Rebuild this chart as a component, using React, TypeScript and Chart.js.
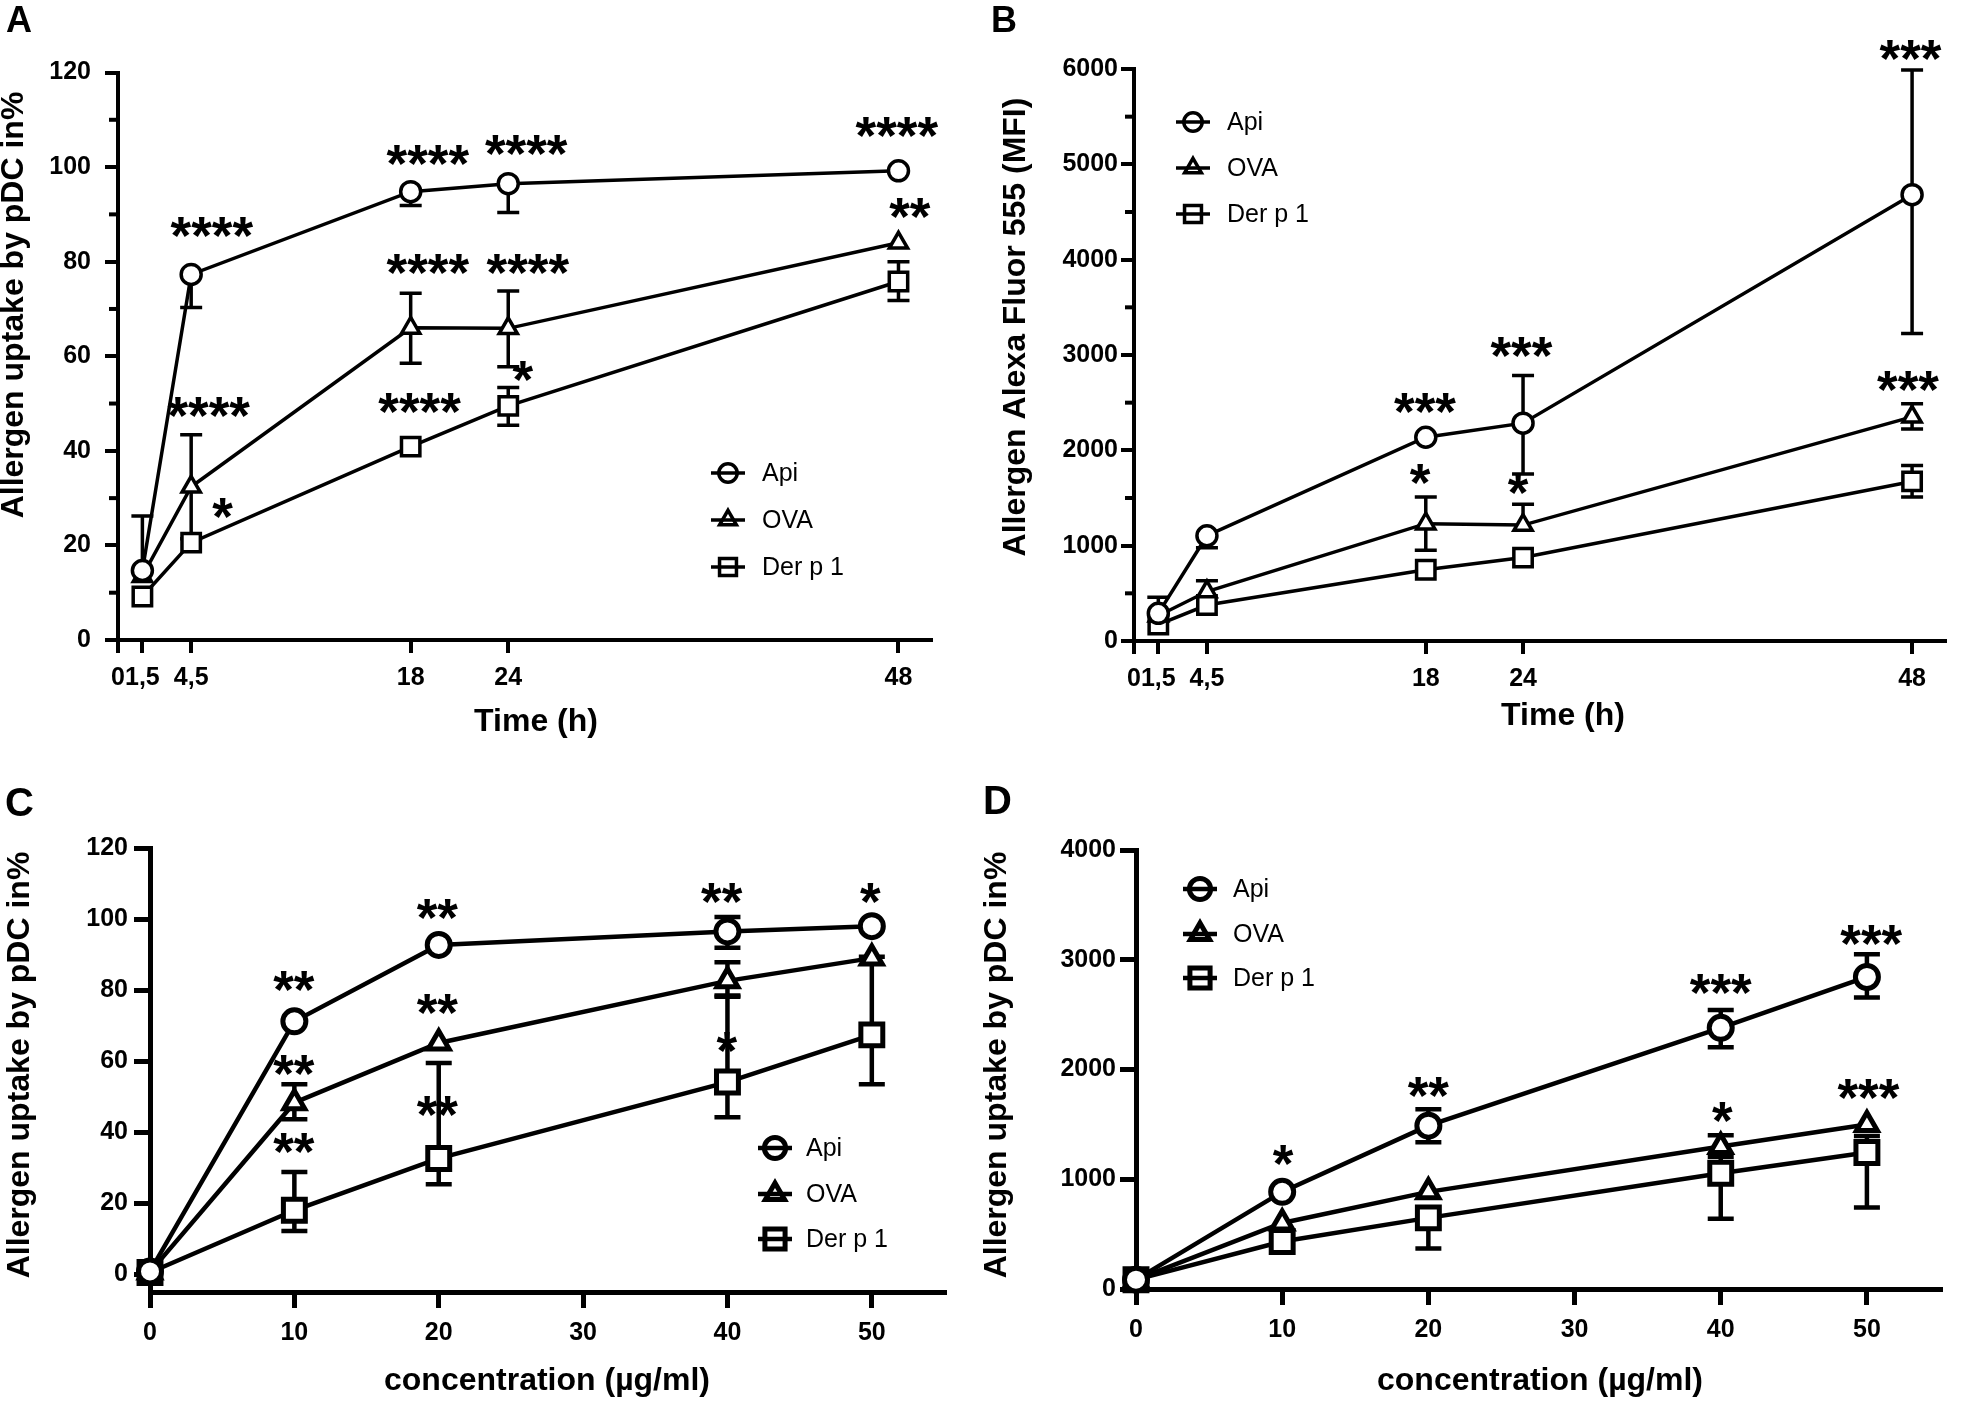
import React, { useEffect, useRef } from 'react';
import { Chart, registerables } from 'chart.js';

Chart.register(...registerables);

const FONT = '"Liberation Sans", Arial, Helvetica, sans-serif';

const seriesNames = ['Api', 'OVA', 'Der p 1'];
const seriesStyles = ['circle', 'triangle', 'rect'];

// ---------- Panel A: uptake (%) over time ----------
const timePoints = [1.5, 4.5, 18, 24, 48];
const timeTicks = [0, 1.5, 4.5, 18, 24, 48];
const timeTickLabels = ['0', '1,5', '4,5', '18', '24', '48'];

const apiA = [14.7, 77.3, 94.8, 96.5, 99.2];
const apiAUp = [11.5, 0, 0, 0, 0];
const apiADown = [0, 7, 2.9, 6.1, 0];
const ovaA = [13.5, 32.4, 66.0, 65.9, 84.0];
const ovaAUp = [0, 11, 7.3, 7.9, 0];
const ovaADown = [0, 11, 7.5, 8.1, 0];
const derA = [9.2, 20.6, 40.9, 49.5, 75.8];
const derAUp = [0, 0, 0, 3.9, 4.2];
const derADown = [0, 0, 0, 4.1, 4.0];
const yTicksA = [0, 20, 40, 60, 80, 100, 120];
const yMinorA = [10, 30, 50, 70, 90, 110];
const starTextA = ['****', '****', '****', '****', '****', '****', '****', '**', '*', '****', '*'];
const starXA = [5.77, 19.05, 25.1, 47.9, 5.58, 19.05, 25.2, 48.7, 6.43, 18.55, 24.9];
const starYA = [86.6, 101.9, 104.0, 107.7, 48.5, 78.9, 78.9, 90.7, 27.3, 49.3, 56.2];

// ---------- Panel B: MFI over time ----------
const apiB = [290, 1104, 2137, 2285, 4682];
const apiBUp = [168, 0, 0, 499, 1308];
const apiBDown = [0, 127, 0, 534, 1456];
const ovaB = [265, 519, 1231, 1216, 2351];
const ovaBUp = [0, 112, 280, 219, 138];
const ovaBDown = [0, 0, 279, 0, 127];
const derB = [173, 377, 748, 875, 1674];
const derBUp = [0, 0, 0, 0, 168];
const derBDown = [0, 0, 0, 0, 163];
const yTicksB = [0, 1000, 2000, 3000, 4000, 5000, 6000];
const yMinorB = [500, 1500, 2500, 3500, 4500, 5500];
const starTextB = ['***', '***', '***', '*', '*', '***'];
const starXB = [17.95, 23.9, 47.9, 17.65, 23.7, 47.75];
const starYB = [2463, 3053, 6168, 1715, 1613, 2697];

// ---------- Panel C: uptake (%) over concentration ----------
const concPoints = [0, 10, 20, 40, 50];
const concTicks = [0, 10, 20, 30, 40, 50];
const concTickLabels = ['0', '10', '20', '30', '40', '50'];

const apiC = [0.8, 71.2, 92.7, 96.5, 98.0];
const apiCUp = [0, 0, 0, 4.1, 0];
const apiCDown = [0, 0, 0, 4.6, 0];
const ovaC = [0.6, 48.3, 65.1, 82.6, 89.0];
const ovaCUp = [0, 5.2, 0, 5.2, 0];
const ovaCDown = [0, 4.7, 0, 4.1, 0];
const derC = [0.5, 18.0, 32.6, 54.1, 67.4];
const derCUp = [0, 10.8, 26.9, 24, 22];
const derCDown = [0, 5.8, 7.3, 9.9, 13.9];
const yTicksC = [0, 20, 40, 60, 80, 100, 120];
const starTextC = ['**', '**', '**', '*', '**', '**', '*', '**', '**'];
const starXC = [9.96, 19.9, 39.6, 49.9, 9.96, 19.9, 39.96, 9.96, 19.9];
const starYC = [81.5, 102.0, 106.4, 106.4, 58.1, 75.0, 64.5, 36.0, 46.5];

// ---------- Panel D: uptake over concentration ----------
const apiD = [85, 885, 1488, 2380, 2843];
const apiDUp = [0, 0, 150, 162, 207];
const apiDDown = [0, 0, 151, 177, 188];
const ovaD = [85, 602, 885, 1299, 1499];
const ovaDUp = [0, 0, 0, 102, 0];
const ovaDDown = [0, 0, 0, 0, 0];
const derD = [85, 433, 648, 1054, 1243];
const derDUp = [0, 0, 0, 151, 150];
const derDDown = [0, 0, 279, 414, 501];
const yTicksD = [0, 1000, 2000, 3000, 4000];
const starTextD = ['*', '**', '***', '***', '*', '***'];
const starXD = [10.06, 20.0, 40.0, 50.3, 40.1, 50.1];
const starYD = [1190, 1808, 2749, 3193, 1582, 1789];

type Series = { values: number[]; up: number[]; down: number[] };
type Panel = {
  canvas: { left: number; top: number; width: number; height: number };
  area: { left: number; top: number; right: number; bottom: number };
  xMin: number; xMax: number; xTicks: number[]; xLabels: string[];
  yMin: number; yMax: number; yTicks: number[]; yMinor: number[];
  xs: number[]; series: Series[];
  starText: string[]; starX: number[]; starY: number[];
  lineWidth: number; markerBorder: number; radii: number[]; capHalf: number;
  axisWidth: number; tickLen: number; minorLen: number; tickFontSize: number; yPad: number; xPad: number;
  letter: string; letterX: number; letterY: number; letterSize: number;
  yTitle: string; yTitleX: number; yTitleY: number;
  xTitle: string; xTitleX: number; xTitleY: number;
  legendX: number; legendYs: number[]; legendTextX: number;
};

const panels: Panel[] = [
  {
    canvas: { left: 0, top: 0, width: 980, height: 760 },
    area: { left: 118, top: 72.5, right: 931, bottom: 640 },
    xMin: 0, xMax: 50, xTicks: timeTicks, xLabels: timeTickLabels,
    yMin: 0, yMax: 120, yTicks: yTicksA, yMinor: yMinorA,
    xs: timePoints,
    series: [
      { values: apiA, up: apiAUp, down: apiADown },
      { values: ovaA, up: ovaAUp, down: ovaADown },
      { values: derA, up: derAUp, down: derADown },
    ],
    starText: starTextA, starX: starXA, starY: starYA,
    lineWidth: 3.5, markerBorder: 3.5, radii: [10, 10.5, 13], capHalf: 11,
    axisWidth: 4, tickLen: 13, minorLen: 7, tickFontSize: 25, yPad: 14, xPad: 10,
    letter: 'A', letterX: 6, letterY: 32, letterSize: 36,
    yTitle: 'Allergen uptake by pDC in%', yTitleX: 14, yTitleY: 305,
    xTitle: 'Time (h)', xTitleX: 536, xTitleY: 722,
    legendX: 728, legendYs: [473, 520, 567], legendTextX: 762,
  },
  {
    canvas: { left: 980, top: 0, width: 981, height: 760 },
    area: { left: 1134, top: 69, right: 1959, bottom: 641 },
    xMin: 0, xMax: 50, xTicks: timeTicks, xLabels: timeTickLabels,
    yMin: 0, yMax: 6000, yTicks: yTicksB, yMinor: yMinorB,
    xs: timePoints,
    series: [
      { values: apiB, up: apiBUp, down: apiBDown },
      { values: ovaB, up: ovaBUp, down: ovaBDown },
      { values: derB, up: derBUp, down: derBDown },
    ],
    starText: starTextB, starX: starXB, starY: starYB,
    lineWidth: 3.5, markerBorder: 3.5, radii: [10, 10.5, 13], capHalf: 11,
    axisWidth: 4, tickLen: 13, minorLen: 7, tickFontSize: 25, yPad: 3, xPad: 10,
    letter: 'B', letterX: 991, letterY: 32, letterSize: 36,
    yTitle: 'Allergen Alexa Fluor 555 (MFI)', yTitleX: 1016, yTitleY: 327,
    xTitle: 'Time (h)', xTitleX: 1563, xTitleY: 716,
    legendX: 1193, legendYs: [122, 168, 214], legendTextX: 1227,
  },
  {
    canvas: { left: 0, top: 760, width: 980, height: 647 },
    area: { left: 150, top: 848, right: 944, bottom: 1292 },
    xMin: 0, xMax: 55, xTicks: concTicks, xLabels: concTickLabels,
    yMin: -5, yMax: 120, yTicks: yTicksC, yMinor: [],
    xs: concPoints,
    series: [
      { values: apiC, up: apiCUp, down: apiCDown },
      { values: ovaC, up: ovaCUp, down: ovaCDown },
      { values: derC, up: derCUp, down: derCDown },
    ],
    starText: starTextC, starX: starXC, starY: starYC,
    lineWidth: 4.5, markerBorder: 5, radii: [11.5, 12, 15.5], capHalf: 13,
    axisWidth: 5, tickLen: 16, minorLen: 8, tickFontSize: 25, yPad: 6, xPad: 10,
    letter: 'C', letterX: 5, letterY: 816, letterSize: 40,
    yTitle: 'Allergen uptake by pDC in%', yTitleX: 20, yTitleY: 1065,
    xTitle: 'concentration (µg/ml)', xTitleX: 547, xTitleY: 1381,
    legendX: 775, legendYs: [1148, 1194, 1239], legendTextX: 806,
  },
  {
    canvas: { left: 980, top: 760, width: 981, height: 647 },
    area: { left: 1136, top: 850, right: 1940, bottom: 1289 },
    xMin: 0, xMax: 55, xTicks: concTicks, xLabels: concTickLabels,
    yMin: 0, yMax: 4000, yTicks: yTicksD, yMinor: [],
    xs: concPoints,
    series: [
      { values: apiD, up: apiDUp, down: apiDDown },
      { values: ovaD, up: ovaDUp, down: ovaDDown },
      { values: derD, up: derDUp, down: derDDown },
    ],
    starText: starTextD, starX: starXD, starY: starYD,
    lineWidth: 4.5, markerBorder: 5, radii: [11.5, 12, 15.5], capHalf: 13,
    axisWidth: 5, tickLen: 16, minorLen: 8, tickFontSize: 25, yPad: 4, xPad: 10,
    letter: 'D', letterX: 983, letterY: 814, letterSize: 40,
    yTitle: 'Allergen uptake by pDC in%', yTitleX: 997, yTitleY: 1065,
    xTitle: 'concentration (µg/ml)', xTitleX: 1540, xTitleY: 1381,
    legendX: 1200, legendYs: [889, 934, 978], legendTextX: 1233,
  },
];

function drawMarker(ctx: CanvasRenderingContext2D, style: string, x: number, y: number, r: number, bw: number) {
  ctx.save();
  ctx.beginPath();
  if (style === 'circle') {
    ctx.arc(x, y, r, 0, Math.PI * 2);
  } else if (style === 'triangle') {
    let rad = 0;
    ctx.moveTo(x + Math.sin(rad) * r, y - Math.cos(rad) * r);
    rad += (2 * Math.PI) / 3;
    ctx.lineTo(x + Math.sin(rad) * r, y - Math.cos(rad) * r);
    rad += (2 * Math.PI) / 3;
    ctx.lineTo(x + Math.sin(rad) * r, y - Math.cos(rad) * r);
    ctx.closePath();
  } else {
    const s = Math.SQRT1_2 * r;
    ctx.rect(x - s, y - s, 2 * s, 2 * s);
  }
  ctx.fillStyle = '#fff';
  ctx.fill();
  ctx.lineWidth = bw;
  ctx.strokeStyle = '#000';
  ctx.stroke();
  ctx.restore();
}

function makePlugin(p: Panel) {
  const offX = p.canvas.left;
  const offY = p.canvas.top;
  return {
    id: 'decor',
    beforeDatasetsDraw(chart: any) {
      const ctx: CanvasRenderingContext2D = chart.ctx;
      const xs = chart.scales.x;
      const ys = chart.scales.y;
      ctx.save();
      ctx.strokeStyle = '#000';
      ctx.lineWidth = p.lineWidth;
      ctx.lineCap = 'butt';
      p.series.forEach((s) => {
        s.values.forEach((v, j) => {
          const px = xs.getPixelForValue(p.xs[j]);
          const py = ys.getPixelForValue(v);
          const ends: number[] = [];
          if (s.up[j] > 0) ends.push(ys.getPixelForValue(v + s.up[j]));
          if (s.down[j] > 0) ends.push(ys.getPixelForValue(v - s.down[j]));
          ends.forEach((ey) => {
            ctx.beginPath();
            ctx.moveTo(px, py);
            ctx.lineTo(px, ey);
            ctx.moveTo(px - p.capHalf, ey);
            ctx.lineTo(px + p.capHalf, ey);
            ctx.stroke();
          });
        });
      });
      ctx.restore();
    },
    afterDraw(chart: any) {
      const ctx: CanvasRenderingContext2D = chart.ctx;
      const xs = chart.scales.x;
      const ys = chart.scales.y;
      const area = chart.chartArea;
      ctx.save();
      ctx.fillStyle = '#000';
      ctx.strokeStyle = '#000';
      // minor ticks
      ctx.lineWidth = p.axisWidth;
      p.yMinor.forEach((v) => {
        const py = ys.getPixelForValue(v);
        ctx.beginPath();
        ctx.moveTo(area.left, py);
        ctx.lineTo(area.left - p.axisWidth / 2 - p.minorLen, py);
        ctx.stroke();
      });
      // significance stars
      const starSize = 53;
      ctx.font = `bold ${starSize}px ${FONT}`;
      ctx.textAlign = 'center';
      ctx.textBaseline = 'alphabetic';
      p.starText.forEach((t, i) => {
        const px = xs.getPixelForValue(p.starX[i]);
        const py = ys.getPixelForValue(p.starY[i]);
        ctx.fillText(t, px, py + 0.446 * starSize);
      });
      // legend
      seriesNames.forEach((name, i) => {
        const lx = p.legendX - offX;
        const ly = p.legendYs[i] - offY;
        ctx.lineWidth = p.lineWidth;
        drawMarker(ctx, seriesStyles[i], lx, ly, p.radii[i] * 0.92, p.markerBorder);
        ctx.beginPath();
        ctx.moveTo(lx - 17, ly);
        ctx.lineTo(lx + 17, ly);
        ctx.stroke();
        ctx.font = `25px ${FONT}`;
        ctx.textAlign = 'left';
        ctx.textBaseline = 'middle';
        ctx.fillText(name, p.legendTextX - offX, ly + 1);
      });
      // axis titles
      ctx.font = `bold 32px ${FONT}`;
      ctx.textAlign = 'center';
      ctx.textBaseline = 'middle';
      ctx.fillText(p.xTitle, p.xTitleX - offX, p.xTitleY - offY);
      ctx.save();
      ctx.translate(p.yTitleX - offX, p.yTitleY - offY);
      ctx.rotate(-Math.PI / 2);
      ctx.fillText(p.yTitle, 0, 0);
      ctx.restore();
      // panel letter
      ctx.font = `bold ${p.letterSize}px ${FONT}`;
      ctx.textAlign = 'left';
      ctx.textBaseline = 'alphabetic';
      ctx.fillText(p.letter, p.letterX - offX, p.letterY - offY);
      ctx.restore();
    },
  };
}

function buildConfig(p: Panel): any {
  const c = p.canvas;
  const a = p.area;
  const tickFont = { family: FONT, size: p.tickFontSize, weight: 'bold' as const };
  return {
    type: 'line',
    data: {
      datasets: p.series.map((s, i) => ({
        label: seriesNames[i],
        data: p.xs.map((xv, j) => ({ x: xv, y: s.values[j] })),
        borderColor: '#000',
        borderWidth: p.lineWidth,
        backgroundColor: '#fff',
        pointStyle: seriesStyles[i],
        pointRadius: p.radii[i],
        pointBorderWidth: p.markerBorder,
        pointBackgroundColor: '#fff',
        pointBorderColor: '#000',
        tension: 0,
        fill: false,
        clip: false,
      })),
    },
    options: {
      animation: false,
      responsive: false,
      devicePixelRatio: 1,
      events: [],
      layout: {
        padding: { left: 0, top: a.top - c.top, right: c.left + c.width - a.right, bottom: 0 },
      },
      plugins: { legend: { display: false }, tooltip: { enabled: false }, title: { display: false } },
      scales: {
        x: {
          type: 'linear',
          position: 'bottom',
          min: p.xMin,
          max: p.xMax,
          afterBuildTicks: (scale: any) => {
            scale.ticks = p.xTicks.map((v) => ({ value: v }));
          },
          afterFit: (scale: any) => {
            scale.height = c.top + c.height - a.bottom;
          },
          ticks: {
            autoSkip: false,
            maxRotation: 0,
            minRotation: 0,
            color: '#000',
            font: tickFont,
            padding: p.xPad,
            callback: (_v: any, i: number) => p.xLabels[i],
          },
          grid: {
            display: true,
            drawOnChartArea: false,
            drawTicks: true,
            tickLength: p.tickLen,
            tickWidth: p.axisWidth,
            tickColor: '#000',
            color: '#000',
            lineWidth: p.axisWidth,
          },
          border: { display: true, width: p.axisWidth, color: '#000' },
        },
        y: {
          type: 'linear',
          position: 'left',
          min: p.yMin,
          max: p.yMax,
          afterBuildTicks: (scale: any) => {
            scale.ticks = p.yTicks.map((v) => ({ value: v }));
          },
          afterFit: (scale: any) => {
            scale.width = a.left - c.left;
          },
          ticks: {
            color: '#000',
            font: tickFont,
            padding: p.yPad,
            callback: (v: any) => String(v),
          },
          grid: {
            display: true,
            drawOnChartArea: false,
            drawTicks: true,
            tickLength: p.tickLen,
            tickWidth: p.axisWidth,
            tickColor: '#000',
            color: '#000',
            lineWidth: p.axisWidth,
          },
          border: { display: true, width: p.axisWidth, color: '#000' },
        },
      },
    },
    plugins: [makePlugin(p)],
  };
}

function PanelChart({ p }: { p: Panel }) {
  const ref = useRef<HTMLCanvasElement>(null);
  useEffect(() => {
    if (!ref.current) return;
    const chart = new Chart(ref.current, buildConfig(p));
    return () => chart.destroy();
  }, [p]);
  return (
    <canvas
      ref={ref}
      width={p.canvas.width}
      height={p.canvas.height}
      style={{
        position: 'absolute',
        left: p.canvas.left,
        top: p.canvas.top,
        width: p.canvas.width,
        height: p.canvas.height,
      }}
    />
  );
}

export default function App() {
  return (
    <div
      style={{
        position: 'absolute',
        left: 0,
        top: 0,
        width: 1961,
        height: 1407,
        background: '#fff',
        overflow: 'hidden',
      }}
    >
      {panels.map((p, i) => (
        <PanelChart key={i} p={p} />
      ))}
    </div>
  );
}
